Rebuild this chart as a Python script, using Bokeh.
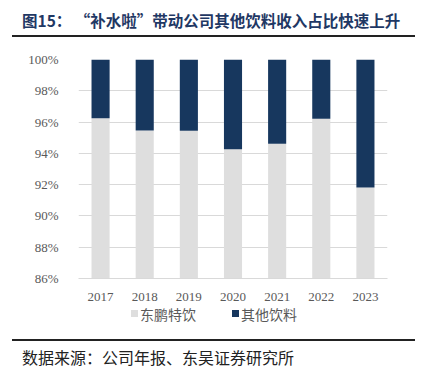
from bokeh.plotting import figure
from bokeh.models import FixedTicker, CustomJSTickFormatter, Div
from bokeh.layouts import column
from bokeh.embed import file_html
from bokeh.resources import INLINE

years = ["2017", "2018", "2019", "2020", "2021", "2022", "2023"]
dongpeng = [96.25, 95.46, 95.44, 94.27, 94.61, 96.21, 91.82]
others = [round(100 - v, 2) for v in dongpeng]
y_ticks = [86, 88, 90, 92, 94, 96, 98, 100]
series_names = ["东鹏特饮", "其他饮料"]
colors = ["#DEDEDE", "#17375E"]
title_text = "图15：&nbsp;“补水啦”带动公司其他饮料收入占比快速上升"
source_text = "数据来源：公司年报、东吴证券研究所"

W = 426
TOP_H, FIG_H, BOT_H = 40, 265, 71

p = figure(x_range=years, y_range=(86, 100), width=W, height=FIG_H,
           output_backend="svg", toolbar_location=None,
           min_border_left=78, min_border_right=39, min_border_top=19, min_border_bottom=27)
p.outline_line_color = None
p.background_fill_color = "white"

data = dict(year=years, a=dongpeng, b=others)
r = p.vbar_stack(["a", "b"], x="year", width=0.41, color=colors, source=data, line_color=None,
                 legend_label=series_names)
p.legend.visible = False

p.yaxis.ticker = FixedTicker(ticks=y_ticks)
p.yaxis.formatter = CustomJSTickFormatter(code="return tick + '%'")
for ax in (p.xaxis, p.yaxis):
    ax.major_label_text_font = "Liberation Serif"
    ax.major_label_text_font_size = "13px"
    ax.major_label_text_color = "#595959"
    ax.major_tick_line_color = None
    ax.minor_tick_line_color = None
p.yaxis.axis_line_color = None
p.xaxis.axis_line_color = "#D9D9D9"
p.xaxis.major_label_standoff = 8
p.yaxis.major_label_standoff = 14
p.xgrid.grid_line_color = None
p.ygrid.grid_line_color = "#D9D9D9"
p.ygrid.grid_line_width = 1

top = Div(text=('<div style="position:relative;width:426px;height:40px;">'
                '<div style="position:absolute;left:22px;top:8px;font-family:\'Noto Sans CJK SC\';'
                'font-size:15.5px;line-height:24px;font-weight:bold;color:#1F3864;white-space:nowrap;">%s</div>'
                '<div style="position:absolute;left:12px;top:35px;width:403px;height:2px;background:#222;"></div>'
                '</div>') % title_text, width=W, height=TOP_H, margin=0)


def legend_item(x, color, label):
    return ('<div style="position:absolute;left:%dpx;top:4px;width:7px;height:7px;background:%s;"></div>'
            '<div style="position:absolute;left:%dpx;top:-2px;font-family:\'Noto Sans CJK SC\';font-size:14px;'
            'line-height:20px;color:#595959;white-space:nowrap;">%s</div>') % (x, color, x + 9, label)


legend_html = legend_item(131, colors[0], series_names[0]) + legend_item(232, colors[1], series_names[1])
bottom = Div(text=('<div style="position:relative;width:426px;height:71px;">'
                   '<div style="position:absolute;left:0;top:1px;width:426px;height:20px;">%s</div>'
                   '<div style="position:absolute;left:12px;top:34px;width:403px;height:2px;background:#222;"></div>'
                   '<div style="position:absolute;left:22px;top:40px;font-family:\'Noto Sans CJK SC\';'
                   'font-size:16px;line-height:24px;color:#222;white-space:nowrap;">%s</div>'
                   '</div>') % (legend_html, source_text), width=W, height=BOT_H, margin=0)

layout = column(top, p, bottom, spacing=0, margin=0)
open("out.html", "w").write(file_html(layout, INLINE))
